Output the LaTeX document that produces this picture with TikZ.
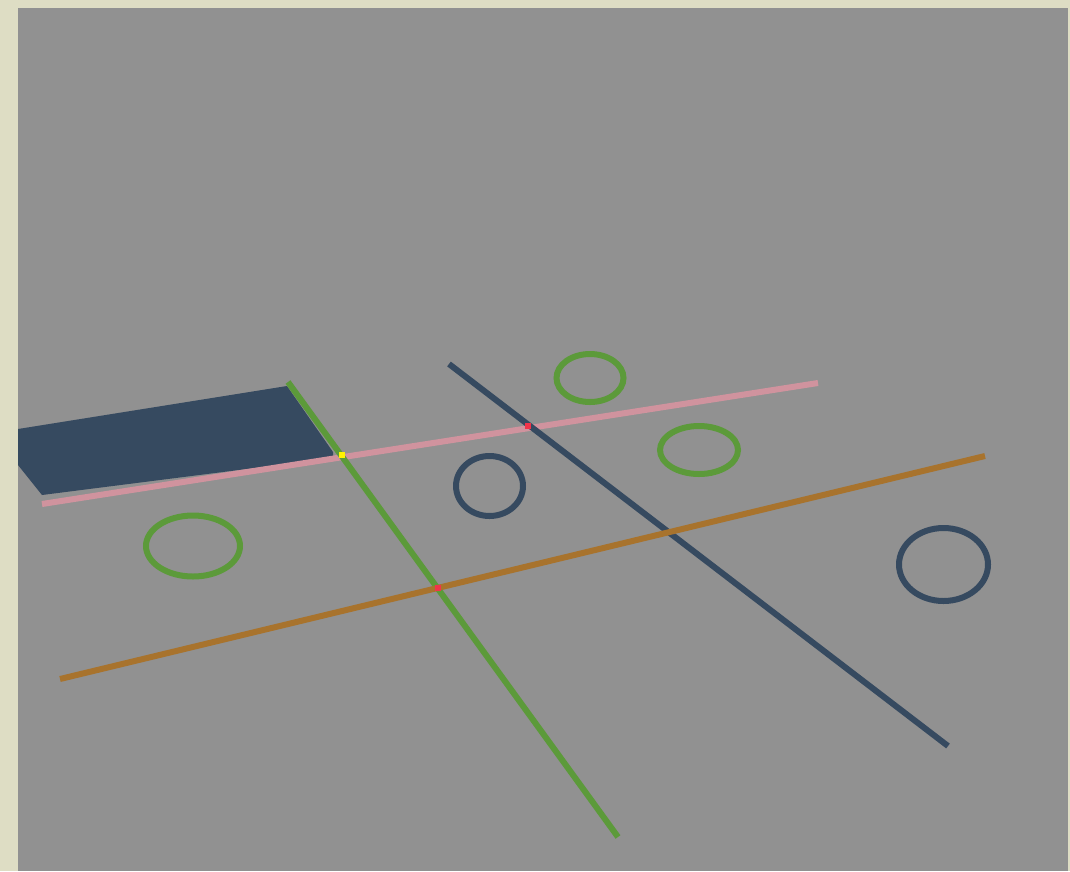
\documentclass[tikz,border=0pt]{standalone}
\definecolor{beige}{HTML}{DEDDC4}
\definecolor{greybg}{HTML}{919191}
\definecolor{dblue}{HTML}{364A60}
\definecolor{lgreen}{HTML}{5C9A3A}
\definecolor{pinkl}{HTML}{D0939E}
\definecolor{brownl}{HTML}{A8732D}
\definecolor{redd}{HTML}{F0344A}
\definecolor{yell}{HTML}{FFF200}
\begin{document}
\begin{tikzpicture}[x=1pt,y=-1pt,
  seg/.style={line width=6pt},
  ring/.style={line width=6pt, fill=none},
  dot/.style={minimum size=6pt, inner sep=0pt, draw=none}]
\useasboundingbox (0,0) rectangle (1070,871);
\fill[beige] (0,0) rectangle (1070,871);
\fill[greybg] (18,8) rectangle (1068,871);
% filled shape
\fill[dblue] (18,429) -- (287,386) -- (333,452) -- (333,458) -- (42,495) -- (18,465) -- cycle;
% ellipses
\draw[ring, lgreen] (590,378) ellipse [x radius=33.5, y radius=24];
\draw[ring, lgreen] (699,450) ellipse [x radius=39, y radius=24];
\draw[ring, lgreen] (193,546) ellipse [x radius=47, y radius=30.5];
\draw[ring, dblue] (489.5,486) ellipse [x radius=33.5, y radius=30];
\draw[ring, dblue] (943.5,564.5) ellipse [x radius=44.5, y radius=36.5];
% line end points
\coordinate (p1) at (42,504);  \coordinate (p2) at (818,383);
\coordinate (g1) at (288,382); \coordinate (g2) at (618,837);
\coordinate (b1) at (449,364); \coordinate (b2) at (948,746);
\coordinate (o1) at (60,679);  \coordinate (o2) at (985,456);
\draw[seg, pinkl] (p1) -- (p2);
\draw[seg, lgreen] (g1) -- (g2);
\draw[seg, dblue] (b1) -- (b2);
\draw[seg, brownl] (o1) -- (o2);
% intersection markers
\node[dot, fill=yell] (y1) at (342,455) {};
\node[dot, fill=redd] (r1) at (528,426) {};
\node[dot, fill=redd] (r2) at (438,588) {};
\end{tikzpicture}
\end{document}
